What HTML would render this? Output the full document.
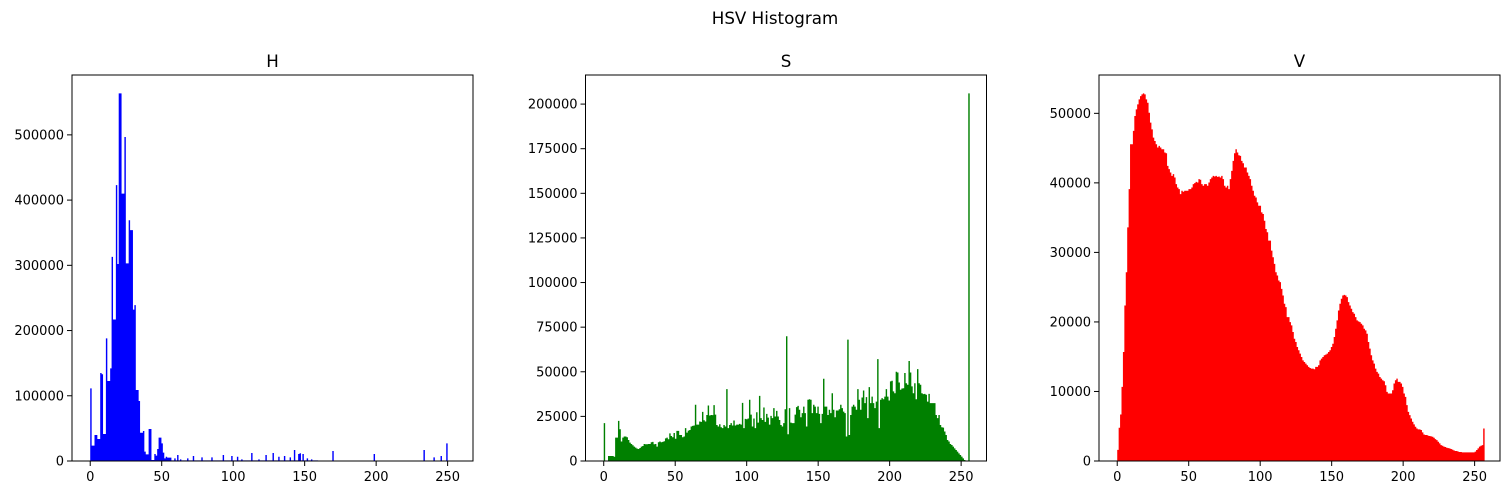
<!DOCTYPE html>
<html><head><meta charset="utf-8"><style>
body{margin:0;background:#fff;}
svg text{font-family:"DejaVu Sans","Liberation Sans",sans-serif;fill:#000;}
</style></head><body>
<svg id="chart" width="1509" height="495" xmlns="http://www.w3.org/2000/svg">
<text x="775" y="24" font-size="16.7" text-anchor="middle">HSV Histogram</text>
</svg>
<script>
const hValues=[111400,23500,23500,39900,39900,33700,33700,135000,133000,41400,41400,188000,122600,122600,142000,313000,
217000,217000,423000,302000,563600,563600,410000,410000,496700,303000,303000,369000,354000,354000,232000,239000,
108800,108800,92000,43400,43400,46000,14300,10200,10200,49000,49000,1500,1500,10700,8200,18400,
35800,35800,27000,12800,4000,6600,5100,5100,5100,1000,1000,4000,1000,9200,1000,2500,
1000,1000,1000,1000,4000,1000,1000,1000,7700,1000,1000,1000,1000,1000,5600,1000,
1000,1000,1000,1000,1000,5600,1000,1000,1000,1000,1000,1000,1000,9200,1000,1000,
1000,1000,1000,7700,1000,1000,1000,6600,1000,1000,2500,1000,1000,1000,1000,1000,
1000,12300,1000,1000,1000,1000,2500,1000,1000,1000,1000,9200,1000,1000,1000,1000,
12300,1000,1000,1000,6600,1000,1000,1000,7700,1000,1000,1000,5600,1000,1000,16900,
1000,1000,10700,11800,1000,10700,1000,1000,4000,1000,1000,2500,1000,1000,1000,1000,
300,300,300,300,300,300,300,300,300,300,15300,300,300,300,300,300,
300,300,300,300,300,300,300,300,300,300,300,300,300,300,300,300,
300,300,300,300,300,300,300,10700,300,300,300,300,300,300,300,300,
300,300,300,300,300,300,300,300,300,300,300,300,300,300,300,300,
300,300,300,300,300,300,300,300,300,300,16900,300,300,300,300,300,
300,5600,300,300,300,300,7700,300,300,300,27000,300,300,300,300,300];
const sValues=[21200,0,0,2800,2800,2800,2800,2400,
13100,13100,22500,17800,10900,13100,13700,13700,13300,11800,10300,9550,8800,8050,7500,6930,6740,7300,8050,8430,9550,9360,9360,9550,9550,10500,10700,9360,9550,8050,10500,10900,10500,10700,11050,12700,13100,12200,15500,14000,13300,15700,12500,16900,16900,14600,14600,13300,13700,18400,15900,17000,17400,19300,19700,19900,31500,20400,20400,22100,21900,27500,22800,22100,25800,31100,25500,25800,25700,31300,26000,20200,19300,20600,18900,18400,20200,19300,40300,18400,20200,21200,19900,22700,19900,20400,20400,20800,20400,32600,18400,23600,23400,23800,34300,26000,19300,23800,18400,27300,21500,36500,24000,23000,30000,21900,26400,24300,20400,25300,24000,29600,24900,28100,24900,23000,20200,19300,21200,29000,69900,15000,29600,21500,21200,21200,26000,30200,30900,28700,24500,26800,30500,26800,19300,34300,34600,34300,26800,31500,30500,26800,30500,26400,21200,26400,46100,30500,30500,25800,28700,26800,38000,28700,24500,28300,28300,29000,31500,29600,27700,26800,13700,68000,14600,25800,30500,31500,30500,28700,40300,34300,28700,35600,39500,32400,35800,24000,41400,32400,36100,32400,29600,33300,57100,18400,34300,35200,34600,36100,40300,36100,33900,44600,45000,39000,38000,50000,49600,44000,39900,40600,40800,49300,43600,42700,56000,49600,41800,38000,43600,34600,51500,43600,42700,38000,37500,37600,37100,33300,37600,32400,32400,32400,32400,25800,24000,25800,20200,18900,18700,16500,14600,11800,10900,9550,9000,8050,7100,6200,5240,4300,3370,2430,1500,560,300,0,206000];
const vValues=[1600,4780,6690,10660,15680,22370,27150,33600,39100,45550,45550,47470,49620,50570,51290,52010,52480,52720,52870,52720,52010,51530,50090,48660,47700,46510,46030,45550,45080,45320,45080,44840,44840,44360,44260,42450,41970,41490,41010,41250,40770,39820,39340,39100,38380,38860,38720,38860,38860,38860,39100,39100,39340,39820,39960,40150,40060,40530,40440,39820,39580,39820,39820,39580,40060,40530,40770,41010,40920,41010,40870,40920,40770,41010,40530,39580,39340,39580,39100,40530,41730,43160,44260,44840,44360,43980,43880,43160,42830,42210,42210,41490,41010,40530,39580,38860,38140,37900,37190,36710,36710,35750,35520,34560,33360,32890,31690,31690,30260,29300,28350,27150,26670,25960,25720,24760,23800,22610,22130,20700,20700,19980,19500,18550,17590,17110,16400,15920,15440,14960,14480,14240,14010,13770,13530,13380,13290,13290,13190,13530,13530,13770,14480,14720,14960,15200,15300,15440,15680,15920,16400,16870,17830,19020,20220,21650,22610,23330,23800,23900,23800,23570,22850,22370,21890,21410,21180,20700,20220,20080,19980,19740,19500,19020,18790,18310,17110,16160,15200,14480,14010,13290,12810,12570,12090,11850,11620,11470,10900,9940,9700,9700,9700,10180,11140,11620,11850,11380,11380,11140,10660,9700,9230,8030,7070,6600,6120,5640,5260,4920,4680,4540,4540,4450,4110,3820,3730,3730,3630,3590,3540,3490,3350,3150,3010,2770,2530,2290,2200,2060,2010,1910,1860,1820,1720,1630,1530,1430,1430,1340,1290,1290,1240,1240,1240,1240,1240,1240,1240,1240,1240,1340,1580,1820,2060,2200,2290,4680];
const xTicks=[0,50,100,150,200,250];
const hTicks=[0,100000,200000,300000,400000,500000];
const sTicks=[0,25000,50000,75000,100000,125000,150000,175000,200000];
const vTicks=[0,10000,20000,30000,40000,50000];
const panelNames=["H","S","V"];

const NS="http://www.w3.org/2000/svg";
const svg=document.getElementById('chart');
function mk(tag,attrs,parent){const e=document.createElementNS(NS,tag);for(const k in attrs)e.setAttribute(k,attrs[k]);(parent||svg).appendChild(e);return e;}

function panel(name,left,values,ticks,color){
  const top=75,bottom=461;
  const g=mk('g',{});
  
  
  const ymax=Math.max(...values)*1.05;
  const xs=v=>left+(v+12.75)/280.5*401;
  const ys=v=>bottom-v/ymax*(bottom-top);
  const bw=255/256;
  let d='';
  values.forEach((v,i)=>{
    const x0=xs(i*bw),x1=xs((i+1)*bw),y=ys(v);
    d+=`M${x0.toFixed(2)},${bottom}V${y.toFixed(2)}H${x1.toFixed(2)}V${bottom}Z`;
  });
  const bars=mk('path',{d:d,fill:color},g);
  
  
  const fr=mk('rect',{x:left,y:top,width:401,height:386,fill:'none',stroke:'#000','stroke-width':1},g);
  
  
  const t=mk('text',{x:left+200.5,y:top-8,'font-size':16.7,'text-anchor':'middle'},g);
  t.textContent=name;
  
  
  xTicks.forEach(v=>{
    const x=xs(v);
    const tk=mk('line',{x1:x,x2:x,y1:bottom,y2:bottom+5,stroke:'#000'},g);
    
    
    const tl=mk('text',{x:x,y:bottom+20,'font-size':13,'text-anchor':'middle'},g);
    tl.textContent=v;
    
    
  });
  ticks.forEach(v=>{
    const y=ys(v);
    const tk=mk('line',{x1:left-5,x2:left,y1:y,y2:y,stroke:'#000'},g);
    
    
    const tl=mk('text',{x:left-8,y:y+4.5,'font-size':13,'text-anchor':'end'},g);
    tl.textContent=v;
    
    
  });
}
panel(panelNames[0],72,hValues,hTicks,'#0000ff');
panel(panelNames[1],585.5,sValues,sTicks,'#008000');
panel(panelNames[2],1099,vValues,vTicks,'#ff0000');
</script>
</body></html>
